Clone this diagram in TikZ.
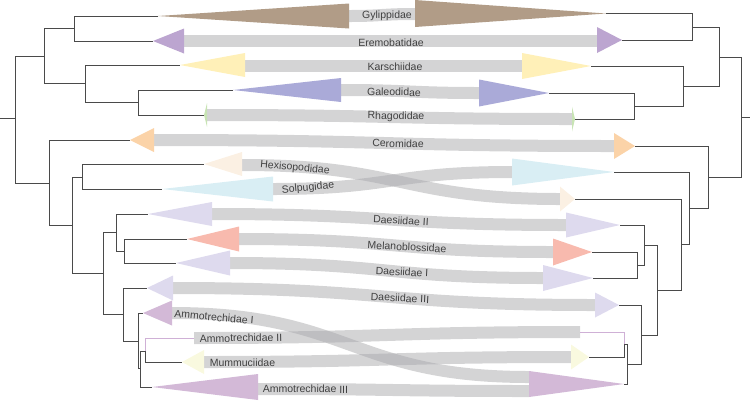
\documentclass[tikz,border=0pt]{standalone}
\usepackage{fontspec}
\setmainfont{Liberation Sans}
\definecolor{treec}{HTML}{4A4A4A}
\definecolor{bandc}{RGB}{169,169,172}
\definecolor{txtc}{HTML}{404040}
\definecolor{gyl}{HTML}{B19C87}
\definecolor{ere}{HTML}{BCA5D0}
\definecolor{kar}{HTML}{FFF0B8}
\definecolor{gal}{HTML}{AAAAD8}
\definecolor{rha}{HTML}{C8E4B4}
\definecolor{cer}{HTML}{FBD3A8}
\definecolor{hex}{HTML}{FBF0E3}
\definecolor{sol}{HTML}{D9EEF4}
\definecolor{dae}{HTML}{DEDAEE}
\definecolor{mel}{HTML}{F8BAAE}
\definecolor{amm}{HTML}{D3B9D7}
\definecolor{mum}{HTML}{F9F9DF}
\definecolor{pline}{HTML}{CFB0D6}
\newcommand\mytri[5]{\fill[#1] (#2,#3) -- (#4,{#3-#5}) -- (#4,{#3+#5}) -- cycle;}
\newcommand\myband[4]{\draw[bandline] (#1,#2) .. controls ({(#1+#3)/2},#2) and ({(#1+#3)/2},#4) .. (#3,#4);}
\begin{document}
\begin{tikzpicture}[x=1bp,y=-1bp,
  tree/.style={draw=treec,line width=0.9bp},
  ptree/.style={draw=pline,line width=0.9bp},
  bandline/.style={draw=bandc,line width=12bp,opacity=0.5},
  lab/.style={text=txtc,inner sep=0pt,font=\fontsize{10.5bp}{12bp}\selectfont}]
\useasboundingbox (0,0) rectangle (750,400);
% bands
\myband{349}{16}{415}{14}
\myband{184}{41}{597}{41}
\myband{245}{66}{522}{66}
\myband{341}{90}{479}{93}
\myband{207}{115}{572}{119}
\myband{154}{140}{614}{146}
\myband{242}{165}{560}{199}
\myband{273}{189}{512}{172}
\myband{212}{214}{566}{225}
\myband{239}{239}{553}{252}
\myband{230}{263}{543}{278}
\myband{173}{288}{595}{305}
\myband{172}{313}{529}{377}
\myband{194}{338}{580}{332}
\myband{204}{362}{571}{357}
\myband{258}{389}{529}{391}
% left triangles
\mytri{gyl}{158}{16}{349}{12.5}
\mytri{ere}{153}{41}{184}{12.5}
\mytri{kar}{180}{65}{245}{12}
\mytri{gal}{233}{90}{341}{12}
\mytri{rha}{204}{115}{207}{12}
\mytri{cer}{130}{140}{154}{12}
\mytri{hex}{204}{164}{242}{12}
\mytri{sol}{162}{189}{273}{12.5}
\mytri{dae}{148}{214}{212}{12}
\mytri{mel}{187}{239}{239}{12.5}
\mytri{dae}{176}{263}{230}{12.5}
\mytri{dae}{147}{288}{173}{12.5}
\mytri{amm}{143}{313}{172}{12.5}
\mytri{mum}{182}{362}{204}{12}
\mytri{amm}{152}{387}{258}{13}
% right triangles
\mytri{gyl}{606}{13.5}{415}{13.5}
\mytri{ere}{622}{40}{597}{13}
\mytri{kar}{591}{66}{522}{13}
\mytri{gal}{549}{93}{479}{13.5}
\mytri{rha}{575}{119}{572}{12.5}
\mytri{cer}{635}{146}{614}{13}
\mytri{hex}{575}{199}{560}{12.5}
\mytri{sol}{614}{172}{512}{13.5}
\mytri{dae}{620}{225}{566}{12.5}
\mytri{mel}{592}{252}{553}{13.5}
\mytri{dae}{593}{278}{543}{13}
\mytri{dae}{619}{305}{595}{12.5}
\mytri{mum}{589}{357}{571}{12.5}
\mytri{amm}{624}{384}{529}{13}
% left tree
\coordinate (L0) at (0,118);
\coordinate (LR) at (15,118);
\coordinate (LA) at (44,56);
\coordinate (LA1) at (74,28);
\coordinate (LGyl) at (158,16);
\coordinate (LEre) at (153,41);
\coordinate (LA2) at (85,83);
\coordinate (LKar) at (180,65);
\coordinate (LA3) at (138,102);
\coordinate (LGal) at (233,90);
\coordinate (LRha) at (204,115);
\coordinate (LB) at (49,183);
\coordinate (LCer) at (130,140);
\coordinate (LB1) at (72,225);
\coordinate (LB2) at (82,177);
\coordinate (LHex) at (204,164);
\coordinate (LSol) at (162,189);
\coordinate (LB3) at (103,273);
\coordinate (LB4) at (116,232);
\coordinate (LDae2) at (148,214);
\coordinate (LB6) at (124,251);
\coordinate (LMel) at (187,239);
\coordinate (LDae1) at (176,263);
\coordinate (LB5) at (123,314);
\coordinate (LDae3) at (147,288);
\coordinate (LB7) at (138,341);
\coordinate (LAm1) at (143,313);
\coordinate (LB8) at (140,368);
\coordinate (LB9) at (145,351);
\coordinate (LAm2) at (194,338);
\coordinate (LMum) at (182,362);
\coordinate (LAm3) at (152,387);
\draw[tree] (L0) -- (LR);
\foreach \p/\c in {LR/LA,LR/LB,LA/LA1,LA/LA2,LA1/LGyl,LA1/LEre,LA2/LKar,LA2/LA3,
  LA3/LGal,LA3/LRha,LB/LCer,LB/LB1,LB1/LB2,LB1/LB3,LB2/LHex,LB2/LSol,LB3/LB4,LB3/LB5,
  LB4/LDae2,LB4/LB6,LB6/LMel,LB6/LDae1,LB5/LDae3,LB5/LB7,LB7/LAm1,LB7/LB8,LB8/LB9,
  LB8/LAm3,LB9/LMum}
  \draw[tree] (\p) |- (\c);
\draw[ptree] (LB9) |- (LAm2);
% right tree
\coordinate (R0) at (750,117);
\coordinate (RR) at (741,117);
\coordinate (RA) at (719,57);
\coordinate (RA1) at (692,27);
\coordinate (RGyl) at (606,13);
\coordinate (REre) at (622,40);
\coordinate (RA2) at (683,86);
\coordinate (RKar) at (591,66);
\coordinate (RA3) at (634,106);
\coordinate (RGal) at (549,93);
\coordinate (RRha) at (575,119);
\coordinate (RB) at (708,177);
\coordinate (RCer) at (635,146);
\coordinate (RB1) at (689,208);
\coordinate (RSol) at (614,172);
\coordinate (RB2) at (681,244);
\coordinate (RHex) at (575,199);
\coordinate (RB3) at (657,290);
\coordinate (RB4) at (644,245);
\coordinate (RDae2) at (620,225);
\coordinate (RB6) at (637,265);
\coordinate (RMel) at (592,252);
\coordinate (RDae1) at (593,278);
\coordinate (RB5) at (641,335);
\coordinate (RDae3) at (619,305);
\coordinate (RB7) at (627,364);
\coordinate (RB8) at (624,344);
\coordinate (RAm2) at (580,332);
\coordinate (RMum) at (589,357);
\coordinate (RAm3) at (624,384);
\draw[tree] (R0) -- (RR);
\foreach \p/\c in {RR/RA,RR/RB,RA/RA1,RA/RA2,RA1/RGyl,RA1/REre,RA2/RKar,RA2/RA3,
  RA3/RGal,RA3/RRha,RB/RCer,RB/RB1,RB1/RSol,RB1/RB2,RB2/RHex,RB2/RB3,RB3/RB4,RB3/RB5,
  RB4/RDae2,RB4/RB6,RB6/RMel,RB6/RDae1,RB5/RDae3,RB5/RB7,RB7/RB8,RB7/RAm3,RB8/RMum}
  \draw[tree] (\p) |- (\c);
\draw[ptree] (RB8) |- (RAm2);
% labels
\node[lab] (t1) at (387,15.5) {Gylippidae};
\node[lab] (t2) at (391,42.5) {Eremobatidae};
\node[lab] (t3) at (395,66.5) {Karschiidae};
\node[lab,rotate=-1] (t4) at (394,92) {Galeodidae};
\node[lab,rotate=-0.5] (t5) at (396,116.5) {Rhagodidae};
\node[lab,rotate=-1] (t6) at (398,143.5) {Ceromidae};
\node[lab,rotate=-5] (t7) at (295,168) {Hexisopodidae};
\node[lab,rotate=5] (t8) at (308,188) {Solpugidae};
\node[lab,rotate=-3.5] (t9) at (401,220.5) {Daesiidae II};
\node[lab,rotate=-3] (t10) at (407,247) {Melanoblossidae};
\node[lab,rotate=-3] (t11) at (402,272) {Daesiidae I};
\node[lab,rotate=-3] (t12) at (400,298) {Daesiidae III};
\node[lab,rotate=-5] (t13) at (214,317) {Ammotrechidae I};
\node[lab,rotate=1] (t14) at (241,338) {Ammotrechidae II};
\node[lab] (t15) at (242.5,362.5) {Mummuciidae};
\node[lab,rotate=-0.5] (t16) at (305.5,389) {Ammotrechidae III};
\end{tikzpicture}
\end{document}
